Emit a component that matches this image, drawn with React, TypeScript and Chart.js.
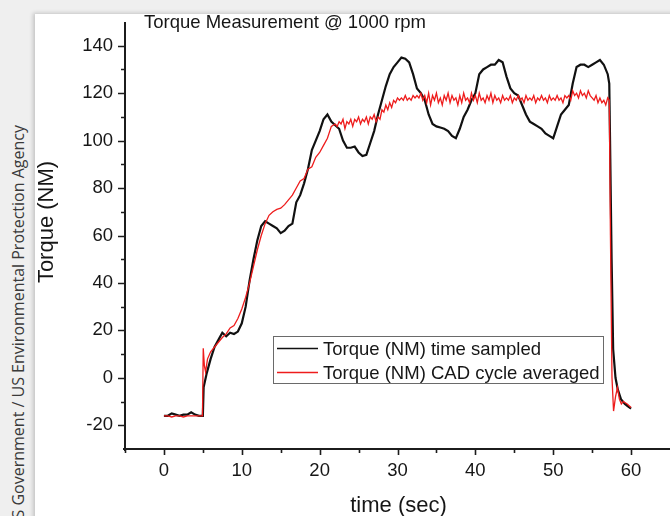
import React, { useEffect, useRef } from "react";
import { Chart, registerables } from "chart.js";

Chart.register(...registerables);

// ---------- data ----------
const sampledTime = [
  0, 0.5, 1, 1.5, 2, 2.5, 3, 3.5, 4, 4.5,
  5, 5.1, 5.5, 6, 6.5, 7, 7.5, 8, 8.5, 9, 9.5,
  10, 10.5, 11, 11.5, 12, 12.5, 13, 13.5, 14, 14.5,
  15, 15.5, 16, 16.5, 17, 17.5, 18, 18.5, 19, 19.5,
  20, 20.5, 21, 21.5, 22, 22.5, 23, 23.5, 24, 24.5,
  25, 25.5, 26, 26.5, 27, 27.5, 28, 28.5, 29, 29.5,
  30, 30.5, 31, 31.5, 32, 32.5, 33, 33.5, 34, 34.5,
  35, 35.5, 36, 36.5, 37, 37.5, 38, 38.5, 39, 39.5,
  40, 40.5, 41, 41.5, 42, 42.5, 43, 43.5, 44, 44.5,
  45, 45.5, 46, 46.5, 47, 47.5, 48, 48.5, 49, 49.5,
  50, 50.5, 51, 51.5, 52, 52.5, 53, 53.5, 54, 54.5,
  55, 55.5, 56, 56.5,
  57, 57.2, 57.3, 57.5, 57.7, 58, 58.3, 58.7, 59.2, 59.6, 60,
];
const sampledTorque = [
  -16, -16, -15, -15.5, -16, -15.5, -15.5, -14.5, -15.5, -16,
  -16, -4, 2, 8, 13, 16, 19, 17.5, 19, 18.5, 19.5,
  23, 30, 41, 50, 58, 64, 66, 65, 64, 63,
  61, 62, 64, 65, 74, 77, 82, 88, 96, 100,
  104, 109, 111, 108, 106.5, 105, 100, 97, 97, 97.5,
  95, 93.5, 94, 99, 104, 111, 117, 123, 128, 131,
  133, 135, 134.5, 133, 128, 122, 120, 117, 111, 107,
  106, 105.5, 105, 104, 102, 101, 105, 110, 113, 117,
  120, 128, 130, 131, 132, 132, 134, 133, 127, 122,
  120, 119, 115, 111, 108, 107, 106, 105, 103, 102,
  101, 106, 111, 113, 115, 124, 131, 132, 132, 131,
  132, 133, 134, 132,
  128, 124, 100, 50, 12, 0, -5, -9, -11, -12, -13,
];

const cadTime = [
  0, 0.5, 1, 1.5, 2, 2.5, 3, 3.5, 4, 4.5, 4.95,
  5.05, 5.2, 5.35, 5.6, 6, 6.5, 7, 7.5, 8, 8.5, 9, 9.5,
  10, 10.5, 11, 11.5, 12, 12.5, 13, 13.5, 14, 14.5,
  15, 15.5, 16, 16.5, 17, 17.5, 18, 18.5, 19, 19.5,
  20, 20.5, 21, 21.5,
  22, 22.25, 22.5, 22.75, 23, 23.25, 23.5, 23.75,
  24, 24.25, 24.5, 24.75, 25, 25.25, 25.5, 25.75,
  26, 26.25, 26.5, 26.75, 27, 27.25, 27.5, 27.75,
  28, 28.25, 28.5, 28.75, 29, 29.25, 29.5, 29.75,
  30, 30.25, 30.5, 30.75, 31, 31.25, 31.5, 31.75,
  32, 32.25, 32.5, 32.75, 33, 33.25, 33.5, 33.75,
  34, 34.25, 34.5, 34.75, 35, 35.25, 35.5, 35.75,
  36, 36.25, 36.5, 36.75, 37, 37.25, 37.5, 37.75,
  38, 38.25, 38.5, 38.75, 39, 39.25, 39.5, 39.75,
  40, 40.25, 40.5, 40.75, 41, 41.25, 41.5, 41.75,
  42, 42.25, 42.5, 42.75, 43, 43.25, 43.5, 43.75,
  44, 44.25, 44.5, 44.75, 45, 45.25, 45.5, 45.75,
  46, 46.25, 46.5, 46.75, 47, 47.25, 47.5, 47.75,
  48, 48.25, 48.5, 48.75, 49, 49.25, 49.5, 49.75,
  50, 50.25, 50.5, 50.75, 51, 51.25, 51.5, 51.75,
  52, 52.25, 52.5, 52.75, 53, 53.25, 53.5, 53.75,
  54, 54.25, 54.5, 54.75, 55, 55.25, 55.5, 55.75,
  56, 56.25, 56.5, 56.75,
  57, 57.2, 57.35, 57.55, 57.75, 58, 58.25, 58.5, 58.75, 59, 59.5, 60,
];
const cadTorque = [
  -16, -16, -16.5, -16, -16, -16.5, -16, -16, -16, -16, -16,
  12.5, 5, 2.5, 8, 11, 13, 15, 17, 18.5, 21, 22, 25,
  29, 34, 40, 47, 54, 60, 65, 68.5, 70, 71,
  71.5, 73, 75, 77, 80, 83, 84, 88, 89, 93,
  95, 98, 101, 106,
  107, 106, 108, 107, 109, 105, 108, 107,
  109, 106, 109, 108, 110, 107, 109, 108,
  110, 107, 110, 109, 111, 108, 110, 109,
  113, 112, 115, 113, 116, 114, 117, 116,
  118, 117, 118, 117, 119, 117, 118, 117,
  119, 118, 119, 118, 120, 117, 119, 116,
  120, 115, 119, 117, 120, 116, 118, 115,
  119, 117, 120, 116, 119, 117, 118, 115,
  119, 116, 120, 117, 118, 116, 120, 117,
  119, 116, 120, 117, 118, 116, 119, 117,
  120, 116, 119, 117, 118, 116, 119, 117,
  118, 117, 119, 116, 118, 117, 119, 117,
  118, 116, 119, 117, 118, 117, 119, 116,
  118, 117, 119, 117, 118, 116, 119, 117,
  118, 117, 119, 117, 118, 116, 119, 118,
  119, 117, 121, 119, 120, 118, 121, 119,
  120, 118, 121, 119, 118, 117, 119, 116,
  118, 116, 117, 115,
  118, 117, 60, 0, -14, -8, -4, -9, -11, -10, -11, -12.5,
];

const xTickLabels = [0, 10, 20, 30, 40, 50, 60];
const yTickLabels = [-20, 0, 20, 40, 60, 80, 100, 120, 140];
const seriesLabels = ["Torque (NM) time sampled", "Torque (NM) CAD cycle averaged"];
const seriesColors = ["#111111", "#ee1c1c"];
const chartTitle = "Torque Measurement @ 1000 rpm";
const xTitle = "time (sec)";
const yTitle = "Torque (NM)";
const credit = "US Government / US Environmental Protection Agency";

const FONT = '"Liberation Sans", Arial, Helvetica, sans-serif';
const TEXT = "#161616";

const decorPlugin = {
  id: "decor",
  afterDraw(chart: any) {
    const ctx = chart.ctx as CanvasRenderingContext2D;
    const { left, right, top, bottom } = chart.chartArea;
    const xs = chart.scales.x;
    const ys = chart.scales.y;
    ctx.save();
    // axis lines
    ctx.strokeStyle = "#1c1c1c";
    ctx.lineWidth = 2;
    ctx.beginPath();
    ctx.moveTo(left, top);
    ctx.lineTo(left, bottom + 2);
    ctx.moveTo(left - 2, bottom);
    ctx.lineTo(right, bottom);
    ctx.stroke();
    // tick marks
    ctx.lineWidth = 1.6;
    ctx.beginPath();
    ys.ticks.forEach((t: any) => {
      if (t.value <= ys.min || t.value >= ys.max) return;
      const py = Math.round(ys.getPixelForValue(t.value)) + 0.5;
      const len = yTickLabels.includes(t.value) ? 7 : 4;
      ctx.moveTo(left - len, py);
      ctx.lineTo(left, py);
    });
    xs.ticks.forEach((t: any) => {
      if (t.value >= xs.max) return;
      const px = Math.round(xs.getPixelForValue(t.value)) + 0.5;
      const len = xTickLabels.includes(t.value) ? 6 : 4;
      ctx.moveTo(px, bottom);
      ctx.lineTo(px, bottom + len);
    });
    ctx.stroke();

    // chart title
    ctx.fillStyle = TEXT;
    ctx.font = `18.5px ${FONT}`;
    ctx.textAlign = "left";
    ctx.textBaseline = "middle";
    ctx.fillText(chartTitle, 144, 23);

    // x title
    ctx.font = `22px ${FONT}`;
    ctx.textAlign = "center";
    ctx.fillText(xTitle, (left + right) / 2 + 1, 506);

    // y title
    ctx.save();
    ctx.translate(47, 222);
    ctx.rotate(-Math.PI / 2);
    ctx.fillText(yTitle, 0, 0);
    ctx.restore();

    // legend
    const bx = 273.5, by = 336.5, bw = 330, bh = 47;
    ctx.strokeStyle = "#6a6a6a";
    ctx.lineWidth = 1;
    ctx.strokeRect(bx, by, bw, bh);
    ctx.font = `18.5px ${FONT}`;
    ctx.textAlign = "left";
    chart.data.datasets.forEach((ds: any, i: number) => {
      const ly = 348.5 + i * 24;
      ctx.strokeStyle = ds.borderColor;
      ctx.lineWidth = 1.4;
      ctx.beginPath();
      ctx.moveTo(277, ly);
      ctx.lineTo(318, ly);
      ctx.stroke();
      ctx.fillStyle = TEXT;
      ctx.fillText(ds.label, 323, ly + 1);
    });
    ctx.restore();
  },
};

export default function App() {
  const canvasRef = useRef<HTMLCanvasElement | null>(null);

  useEffect(() => {
    const canvas = canvasRef.current;
    if (!canvas) return;
    const sampled = sampledTime.map((t, i) => ({ x: t, y: sampledTorque[i] }));
    const cad = cadTime.map((t, i) => ({ x: t, y: cadTorque[i] }));
    const chart = new Chart(canvas, {
      type: "line",
      data: {
        datasets: [
          {
            label: seriesLabels[0],
            data: sampled,
            borderColor: seriesColors[0],
            borderWidth: 2.2,
            pointRadius: 0,
            tension: 0,
            fill: false,
            order: 1,
          },
          {
            label: seriesLabels[1],
            data: cad,
            borderColor: seriesColors[1],
            borderWidth: 1.3,
            pointRadius: 0,
            tension: 0,
            fill: false,
            order: 0,
          },
        ],
      },
      options: {
        responsive: false,
        maintainAspectRatio: false,
        animation: false,
        devicePixelRatio: 1,
        events: [],
        layout: { padding: { top: 22, right: 0, left: 0, bottom: 0 } },
        plugins: {
          legend: { display: false },
          tooltip: { enabled: false },
          title: { display: false },
        },
        scales: {
          x: {
            type: "linear",
            min: -5,
            max: 65,
            border: { display: false },
            grid: { display: true, drawOnChartArea: false, drawTicks: false },
            ticks: {
              stepSize: 5,
              autoSkip: false,
              maxRotation: 0,
              padding: 11,
              color: TEXT,
              font: { family: FONT, size: 18.5 },
              callback: (v: any) => (xTickLabels.includes(Number(v)) ? String(v) : ""),
            },
            afterFit: (scale: any) => {
              scale.height = 67;
              scale.paddingLeft = 0;
              scale.paddingRight = 0;
            },
          },
          y: {
            type: "linear",
            min: -30,
            max: 150,
            border: { display: false },
            grid: { display: true, drawOnChartArea: false, drawTicks: false },
            ticks: {
              stepSize: 10,
              autoSkip: false,
              padding: 12,
              color: TEXT,
              font: { family: FONT, size: 18.5 },
              callback: (v: any) => (yTickLabels.includes(Number(v)) ? String(v) : ""),
            },
            afterFit: (scale: any) => {
              scale.width = 125;
              scale.paddingTop = 0;
              scale.paddingBottom = 0;
            },
          },
        },
      },
      plugins: [decorPlugin],
    } as any);
    return () => chart.destroy();
  }, []);

  return (
    <div
      style={{
        position: "absolute",
        left: 0,
        top: 0,
        width: 670,
        height: 516,
        overflow: "hidden",
        background: "#efefef",
      }}
    >
      <div
        style={{
          position: "absolute",
          left: 35,
          top: 14,
          width: 700,
          height: 600,
          background: "#ffffff",
          boxShadow: "-2px -1px 4px rgba(0,0,0,0.18)",
        }}
      />
      <div
        style={{
          position: "absolute",
          left: 8,
          top: 725,
          width: 600,
          height: 21,
          lineHeight: "21px",
          textAlign: "right",
          whiteSpace: "nowrap",
          transformOrigin: "0 0",
          transform: "rotate(-90deg)",
          fontFamily: '"Open Sans", "Noto Sans", sans-serif',
          fontSize: 16,
          color: "#3a3a3a",
        }}
      >
        {credit}
      </div>
      <canvas
        ref={canvasRef}
        width={670}
        height={516}
        style={{ position: "absolute", left: 0, top: 0, width: 670, height: 516 }}
      />
    </div>
  );
}
